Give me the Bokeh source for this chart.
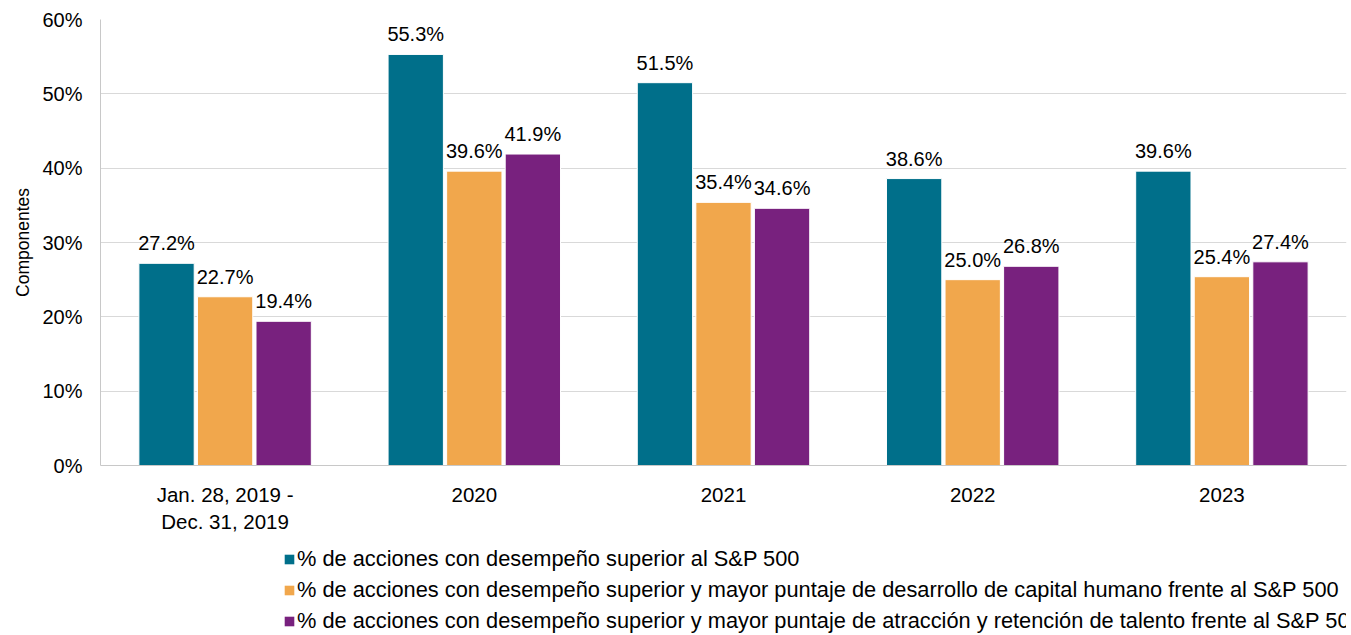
from bokeh.plotting import figure
from bokeh.layouts import column
from bokeh.models import ColumnDataSource, FactorRange, Legend, LegendItem, LabelSet, NumeralTickFormatter, FixedTicker, Range1d
from bokeh.core.properties import value
from bokeh.transform import dodge
from bokeh.embed import file_html
from bokeh.resources import INLINE

categories = ["Jan. 28, 2019 -\nDec. 31, 2019", "2020", "2021", "2022", "2023"]
series_names = [
    "% de acciones con desempeño superior al S&P 500",
    "% de acciones con desempeño superior y mayor puntaje de desarrollo de capital humano frente al S&P 500",
    "% de acciones con desempeño superior y mayor puntaje de atracción y retención de talento frente al S&P 500",
]
outperform = [27.2, 55.3, 51.5, 38.6, 39.6]
human_capital = [22.7, 39.6, 35.4, 25.0, 25.4]
talent = [19.4, 41.9, 34.6, 26.8, 27.4]
y_ticks = [0, 10, 20, 30, 40, 50, 60]

colors = ["#006f8a", "#f1a74c", "#78217e"]
FONT = "Liberation Sans"

src = ColumnDataSource(dict(
    cat=categories,
    a=[v / 100 for v in outperform],
    b=[v / 100 for v in human_capital],
    c=[v / 100 for v in talent],
    la=[f"{v:.1f}%" for v in outperform],
    lb=[f"{v:.1f}%" for v in human_capital],
    lc=[f"{v:.1f}%" for v in talent],
))

p = figure(x_range=FactorRange(*categories), y_range=(0, 0.6), width=1351, height=545,
           output_backend="svg", toolbar_location=None,
           min_border_left=100, min_border_right=5, min_border_top=19, min_border_bottom=80)
p.outline_line_color = None
p.x_range.range_padding = 0

offs = [-0.235, 0.0, 0.235]
keys = ["a", "b", "c"]
lkeys = ["la", "lb", "lc"]
for k, lk, o, col in zip(keys, lkeys, offs, colors):
    p.vbar(x=dodge("cat", o, range=p.x_range), top=k, width=0.222, source=src,
           fill_color=col, line_color="white", line_width=1)
    ls = LabelSet(x=dodge("cat", o, range=p.x_range), y=k, text=lk, source=src,
                  text_align="center", text_baseline="bottom", y_offset=9,
                  text_font=value(FONT), text_font_size=value("20px"), text_color=value("#000000"))
    p.add_layout(ls)

p.yaxis.ticker = FixedTicker(ticks=[t / 100 for t in y_ticks])
p.yaxis.formatter = NumeralTickFormatter(format="0%")
p.yaxis.axis_label = "Componentes"
p.yaxis.axis_label_text_font = FONT
p.yaxis.axis_label_text_font_style = "normal"
p.yaxis.axis_label_text_font_size = "17.5px"
p.yaxis.axis_label_text_color = "#000000"
p.yaxis.axis_label_standoff = 6
for ax in (p.xaxis, p.yaxis):
    ax.major_label_text_font = FONT
    ax.major_label_text_color = "#000000"
    ax.major_tick_line_color = None
    ax.minor_tick_line_color = None
    ax.axis_line_color = "#c8c8c8"
p.yaxis.major_label_text_font_size = "20px"
p.xaxis.major_label_text_font_size = "20.5px"
p.yaxis.major_label_standoff = 12
p.xaxis.major_label_standoff = 11
p.xgrid.grid_line_color = None
p.ygrid.grid_line_color = "#d9d9d9"

# Legend panel (same side borders as the chart so the column keeps the chart's frame in place)
lf = figure(width=1351, height=90, output_backend="svg", toolbar_location=None,
            x_axis_type=None, y_axis_type=None, x_range=Range1d(0, 1), y_range=Range1d(0, 1),
            min_border_left=100, min_border_right=5, min_border_top=0, min_border_bottom=0)
lf.outline_line_color = None
lf.xgrid.grid_line_color = None
lf.ygrid.grid_line_color = None
dummy = ColumnDataSource(dict(x=[5], top=[0]))
lrs = [lf.vbar(x="x", top="top", width=0.1, source=dummy, fill_color=c, line_color=None) for c in colors]
legend = Legend(items=[LegendItem(label=n, renderers=[r]) for n, r in zip(series_names, lrs)],
                orientation="vertical", location=(183, 1), border_line_color=None,
                background_fill_alpha=0,
                label_text_font=FONT, label_text_font_size="21.8px", label_text_color="#000000",
                glyph_width=12, glyph_height=12, label_standoff=2, spacing=5, padding=0, margin=0,
                label_height=21)
lf.add_layout(legend)

layout = column(p, lf, spacing=0)
open("out.html", "w").write(file_html(layout, INLINE))
